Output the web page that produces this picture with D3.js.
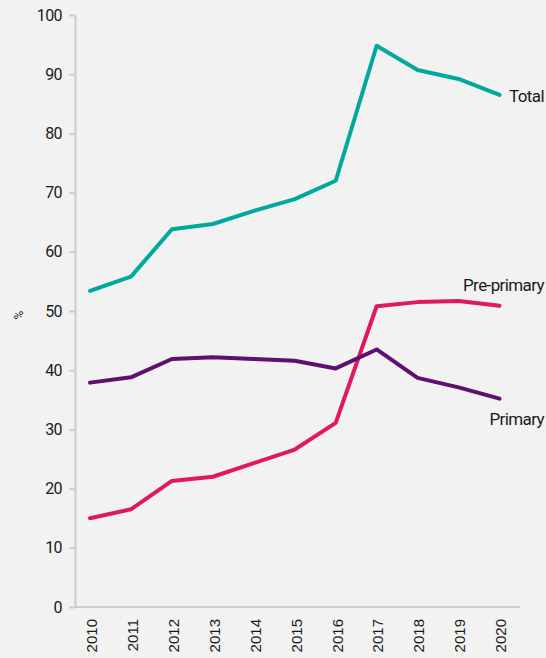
<!DOCTYPE html>
<html>
<head>
<meta charset="utf-8">
<script src="https://cdn.jsdelivr.net/npm/d3@7"></script>
<style>
  html, body { margin: 0; padding: 0; background: #f2f2f2; }
  svg { display: block; }
</style>
</head>
<body>
<svg id="chart" width="546" height="658"></svg>
<script>
// Enrolment shares by year (%)
const years = ["2010","2011","2012","2013","2014","2015","2016","2017","2018","2019","2020"];
const totalValues      = [53.4, 55.8, 63.8, 64.7, 66.9, 68.9, 72.0, 94.8, 90.7, 89.2, 86.5];
const prePrimaryValues = [15.0, 16.5, 21.3, 22.0, 24.3, 26.6, 31.1, 50.8, 51.5, 51.7, 50.9];
const primaryValues    = [37.9, 38.8, 41.9, 42.2, 41.9, 41.6, 40.3, 43.5, 38.7, 37.1, 35.2];
const yTicks = [0, 10, 20, 30, 40, 50, 60, 70, 80, 90, 100];

const seriesList = [
  { name: "Total",       values: totalValues,      color: "#00a99d", labelY: 102 },
  { name: "Pre-primary", values: prePrimaryValues, color: "#e0195c", labelY: 291 },
  { name: "Primary",     values: primaryValues,    color: "#5e0f6f", labelY: 425 }
];

const svg = d3.select("#chart");
const plotLeft = 75, plotRight = 520, plotTop = 15, plotBottom = 607;

// first and last year sit inside the axis with a little room on each side
const x = d3.scalePoint().domain(years).range([90, 499.5]);
const y = d3.scaleLinear().domain([0, 100]).range([plotBottom, plotTop]);

// y axis
const yAxis = svg.append("g")
  .attr("transform", `translate(${plotLeft},0)`)
  .call(d3.axisLeft(y).tickValues(yTicks).tickSize(6).tickPadding(7).tickSizeOuter(0));
yAxis.select(".domain").attr("stroke", "#cccccc").attr("stroke-width", 2);
yAxis.selectAll(".tick line").attr("stroke", "#cccccc").attr("stroke-width", 2);
yAxis.selectAll(".tick text")
  .attr("fill", "#1a1a1a")
  .style("font-family", "Roboto, sans-serif")
  .style("font-size", "16px")
  .style("letter-spacing", "-0.6px");

// x axis (no tick marks, rotated labels)
const xAxis = svg.append("g")
  .attr("transform", `translate(0,${plotBottom})`)
  .call(d3.axisBottom(x).tickSize(0).tickPadding(0));
xAxis.select(".domain").attr("d", `M${plotLeft},0H${plotRight}`).attr("stroke", "#cccccc").attr("stroke-width", 2);
xAxis.selectAll(".tick text")
  .attr("transform", "rotate(-90)")
  .attr("x", -12)
  .attr("y", 0)
  .attr("dy", "0.42em")
  .attr("text-anchor", "end")
  .attr("fill", "#1a1a1a")
  .style("font-family", "'Liberation Sans', Arial, sans-serif")
  .style("font-size", "15px");

// y axis unit label
svg.append("text")
  .attr("transform", "translate(19,315) rotate(-90)")
  .attr("text-anchor", "middle")
  .attr("dy", "0.35em")
  .attr("fill", "#1a1a1a")
  .style("font-family", "Roboto, sans-serif")
  .style("font-size", "12px")
  .text("%");

// lines
const line = d3.line()
  .x((d, i) => x(years[i]))
  .y(d => y(d));

svg.selectAll("path.series")
  .data(seriesList)
  .join("path")
  .attr("class", "series")
  .attr("d", d => line(d.values))
  .attr("fill", "none")
  .attr("stroke", d => d.color)
  .attr("stroke-width", 4)
  .attr("stroke-linejoin", "round")
  .attr("stroke-linecap", "round");

// series labels
svg.selectAll("text.series-label")
  .data(seriesList)
  .join("text")
  .attr("class", "series-label")
  .attr("x", 544)
  .attr("y", d => d.labelY)
  .attr("text-anchor", "end")
  .attr("fill", "#1a1a1a")
  .style("font-family", "Roboto, sans-serif")
  .style("font-size", "17px")
  .style("letter-spacing", "-0.6px")
  .text(d => d.name);
</script>
</body>
</html>
